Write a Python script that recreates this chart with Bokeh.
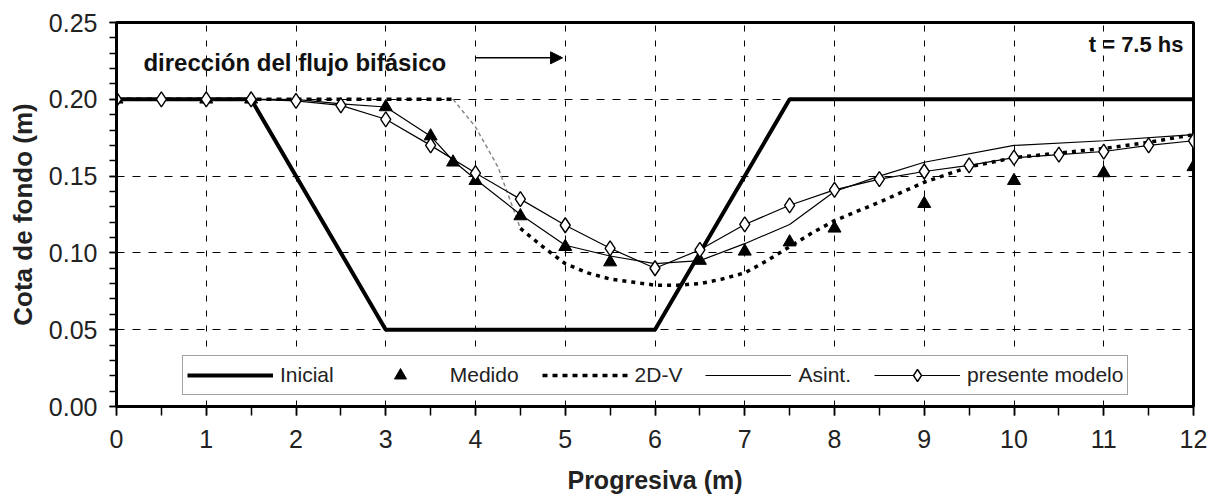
from bokeh.plotting import figure
from bokeh.models import (Range1d, FixedTicker, NumeralTickFormatter, Legend,
                          LegendItem, Label, Arrow, NormalHead)
from bokeh.embed import file_html
from bokeh.resources import INLINE

# --- bed profiles along the channel (x in m, bed level in m) ---
inicial_x = [0, 1.5, 3, 6, 7.5, 12]
inicial_y = [0.20, 0.20, 0.05, 0.05, 0.20, 0.20]

medido_x = [0, 1, 1.5, 3, 3.5, 3.75, 4, 4.5, 5, 5.5, 6.5, 7, 7.5, 8, 9, 10, 11, 12]
medido_y = [0.200, 0.200, 0.200, 0.195, 0.176, 0.159, 0.147, 0.124, 0.104, 0.094,
            0.095, 0.101, 0.107, 0.116, 0.132, 0.147, 0.152, 0.156]

dv_x = [0, 3.75, 4.0, 4.25, 4.5, 4.75, 5.0, 5.25, 5.5, 5.75, 6.0, 6.25, 6.5, 6.75,
        7.0, 7.25, 7.5, 7.75, 8.0, 8.5, 9.0, 9.5, 10.0, 10.5, 11.0, 11.5, 12.0]
dv_y = [0.200, 0.200, 0.182, 0.156, 0.116, 0.104, 0.093, 0.087, 0.083, 0.081, 0.079,
        0.079, 0.080, 0.083, 0.087, 0.095, 0.104, 0.113, 0.121, 0.133, 0.146, 0.156,
        0.162, 0.165, 0.168, 0.172, 0.177]

asint_x = [0, 2, 2.5, 3, 3.5, 3.75, 4, 4.5, 5, 5.5, 6, 6.5, 7, 7.5, 8, 8.5, 9, 10, 11, 12]
asint_y = [0.200, 0.200, 0.197, 0.195, 0.176, 0.160, 0.148, 0.125, 0.105, 0.098, 0.093,
           0.095, 0.106, 0.1185, 0.140, 0.150, 0.159, 0.170, 0.173, 0.177]

modelo_x = [0, 0.5, 1, 1.5, 2, 2.5, 3, 3.5, 4, 4.5, 5, 5.5, 6, 6.5, 7, 7.5, 8, 8.5,
            9, 9.5, 10, 10.5, 11, 11.5, 12]
modelo_y = [0.200, 0.200, 0.200, 0.200, 0.199, 0.196, 0.187, 0.170, 0.152, 0.135,
            0.118, 0.103, 0.090, 0.102, 0.1185, 0.131, 0.141, 0.148, 0.153, 0.157,
            0.162, 0.164, 0.166, 0.170, 0.173]

x_ticks = list(range(0, 13))
x_minor = [i * 0.5 for i in range(0, 25)]
y_ticks = [0.00, 0.05, 0.10, 0.15, 0.20, 0.25]
y_minor = [i * 0.01 for i in range(0, 26)]

FONT = "Liberation Sans"

p = figure(frame_width=1077, frame_height=384,
           min_border_left=116, min_border_right=23,
           min_border_top=22, min_border_bottom=96,
           x_range=Range1d(0, 12), y_range=Range1d(0, 0.25),
           output_backend="svg", toolbar_location=None,
           background_fill_color="white", border_fill_color="white")

p.outline_line_color = "black"
p.outline_line_width = 3

# axes
p.xaxis.ticker = FixedTicker(ticks=x_ticks, minor_ticks=x_minor)
p.yaxis.ticker = FixedTicker(ticks=y_ticks, minor_ticks=y_minor)
p.yaxis.formatter = NumeralTickFormatter(format="0.00")
for ax in (p.xaxis[0], p.yaxis[0]):
    ax.axis_line_width = 3
    ax.axis_line_color = "black"
    ax.major_tick_in = 0
    ax.minor_tick_in = 0
    ax.major_tick_line_width = 1.5
    ax.minor_tick_line_width = 1.5
    ax.major_tick_line_color = "black"
    ax.minor_tick_line_color = "black"
    ax.major_label_text_color = "#222222"
    ax.axis_label_text_color = "#222222"
    ax.axis_label_text_font = FONT
    ax.axis_label_text_font_style = "bold"
    ax.major_label_text_font = FONT

p.xaxis.major_tick_out = 9
p.xaxis.minor_tick_out = 9
p.xaxis.major_label_standoff = 14
p.xaxis.major_label_text_font_size = "25px"
p.xaxis.axis_label = "Progresiva (m)"
p.xaxis.axis_label_text_font_size = "25px"
p.xaxis.axis_label_standoff = 15

p.yaxis.major_tick_out = 7
p.yaxis.minor_tick_out = 7
p.yaxis.major_label_standoff = 12
p.yaxis.major_label_text_font_size = "25px"
p.yaxis.axis_label = "Cota de fondo (m)"
p.yaxis.axis_label_text_font_size = "26px"
p.yaxis.axis_label_standoff = 8

# grid
p.xgrid.grid_line_color = "black"
p.xgrid.grid_line_dash = "6 9"
p.xgrid.grid_line_width = 1
p.ygrid.grid_line_color = "black"
p.ygrid.grid_line_dash = "8 8"
p.ygrid.grid_line_width = 1

# initial bed
r_ini = p.line(inicial_x, inicial_y, line_color="black", line_width=4)

# 2D-V model: steep upstream drop drawn light, the rest heavy dotted
p.line(dv_x[1:5], dv_y[1:5], line_color="#8a8a8a", line_width=1.5, line_dash="4 3")
r_dv = p.line(dv_x[0:2], dv_y[0:2], line_color="black", line_width=3.5, line_dash="5 5")
p.line(dv_x[4:], dv_y[4:], line_color="black", line_width=3.5, line_dash="4 5")

# asymptotic solution
r_as = p.line(asint_x, asint_y, line_color="black", line_width=1.2)

# measured bed
r_med = p.scatter(medido_x, medido_y, marker="triangle", size=13,
                  fill_color="black", line_color="black")

# present model
r_mod_l = p.line(modelo_x, modelo_y, line_color="black", line_width=1.2)
r_mod_m = p.scatter(modelo_x, modelo_y, marker="diamond", size=15,
                    fill_color="white", line_color="black", line_width=1.4)

legend = Legend(items=[
    LegendItem(label="Inicial", renderers=[r_ini]),
    LegendItem(label="Medido", renderers=[r_med]),
    LegendItem(label="2D-V", renderers=[r_dv]),
    LegendItem(label="Asint.", renderers=[r_as]),
    LegendItem(label="presente modelo", renderers=[r_mod_l, r_mod_m]),
], orientation="horizontal", location=(66, 11))
legend.glyph_width = 86
legend.glyph_height = 30
legend.label_standoff = 7
legend.spacing = 23
legend.padding = 4
legend.margin = 0
legend.label_text_font = FONT
legend.label_text_font_size = "21px"
legend.label_text_color = "#222222"
legend.border_line_color = "#444444"
legend.border_line_width = 1.5
legend.background_fill_color = "white"
legend.background_fill_alpha = 1.0
p.add_layout(legend)

# annotations
p.add_layout(Label(x=0.30, y=0.224, text="dirección del flujo bifásico",
                   text_font=FONT, text_font_style="bold", text_font_size="24px",
                   text_baseline="middle", text_align="left", text_color="#111111"))
p.add_layout(Arrow(end=NormalHead(size=12, fill_color="black", line_color="black"),
                   x_start=4.0, y_start=0.227, x_end=4.97, y_end=0.227,
                   line_color="black", line_width=1.5))
p.add_layout(Label(x=12, y=0.2357, x_offset=-10, text="t = 7.5 hs",
                   text_font=FONT, text_font_style="bold", text_font_size="22px",
                   text_baseline="middle", text_align="right", text_color="#111111"))

open("out.html", "w").write(file_html(p, INLINE))
